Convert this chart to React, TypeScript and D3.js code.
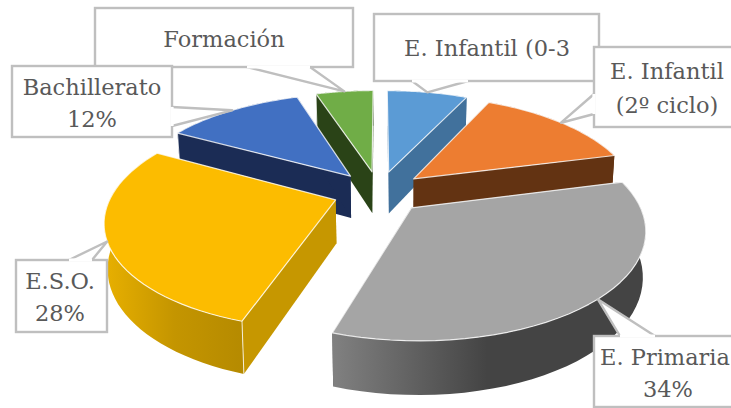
import React from "react";
import * as d3 from "d3";

const categories = ["E. Infantil (0-3", "E. Infantil (2º ciclo)", "E. Primaria", "E.S.O.", "Bachillerato", "Formación"];
const values = [7, 14, 34, 28, 12, 5];
const topColors = ["#5b9bd5", "#ed7d31", "#a5a5a5", "#fcbc00", "#4170c2", "#70ad47"];
const sideColors = ["#41719c", "#633312", "#444444", "#c69700", "#1b2c55", "#2a4317"];
const wallStops = [
	["#41719c", "#41719c"],
	["#633312", "#633312"],
	["#808080", "#444444", "#444444"],
	["#e8b000", "#c49500", "#b58a00"],
	["#1b2c55", "#1b2c55"],
	["#2a4317", "#2a4317"],
];

// callout boxes: text lines + box + which side the pointer leaves from
const callouts = [
	{slice: 5, box: [95, 8, 353, 67], base: [[247, 67], [310, 67]], lines: [["Formación", 224, 47]]},
	{slice: 4, box: [12, 66, 172, 137], base: [[172, 107], [172, 126]], lines: [["Bachillerato", 92, 95], ["12%", 92, 127]]},
	{slice: 0, box: [374, 14, 599, 81], base: [[412, 81], [468, 81]], lines: [["E. Infantil (0-3", 487, 56]]},
	{slice: 1, box: [594, 47, 760, 127], base: [[594, 94], [594, 114]], lines: [["E. Infantil", 667, 79], ["(2º ciclo)", 667, 113]]},
	{slice: 3, box: [16, 260, 107, 332], base: [[69, 260], [92, 260]], lines: [["E.S.O.", 60, 289], ["28%", 60, 321]]},
	{slice: 2, box: [594, 336, 760, 407], base: [[620, 336], [655, 336]], lines: [["E. Primaria", 665, 365], ["34%", 668, 397]]},
];

const cx = 379;
const cy = 192;
const R = 223;
const tilt = 0.46;
const persp = 0.18;
const depth = 43;
const explode = 46;

const pieGen = d3.pie<number>().sort(null).value((d) => d);
const arcs = pieGen(values);
const lineGen = d3.line<number[]>().x((d) => d[0]).y((d) => d[1]);

function project(X: number, Z: number, down: boolean) {
	const w = 1 + (persp * Z) / R;
	const x = cx + X / w;
	const y = cy - (tilt * Z) / w;
	if (!down) return [x, y];
	return [x + (400 - x) * 0.012, y + depth / w];
}

function point(mid: number, a: number, r: number, down = false) {
	const X = explode * Math.sin(mid) + r * Math.sin(a);
	const Z = explode * Math.cos(mid) + r * Math.cos(a);
	return project(X, Z, down);
}

const App = () => {
	const slices = arcs.map((d, i) => {
		const mid = (d.startAngle + d.endAngle) / 2;
		const steps = d3.range(0, 41).map((k) => d.startAngle + ((d.endAngle - d.startAngle) * k) / 40);
		const rim = steps.map((a) => point(mid, a, R));
		const rimLow = steps.map((a) => point(mid, a, R, true));
		const apex = point(mid, 0, 0);
		const apexLow = point(mid, 0, 0, true);
		return {
			i,
			top: lineGen([apex, ...rim])! + "Z",
			sideA: lineGen([apex, rim[0], rimLow[0], apexLow])! + "Z",
			sideB: lineGen([apex, rim[40], rimLow[40], apexLow])! + "Z",
			wall: lineGen([...rim, ...rimLow.slice().reverse()])! + "Z",
			corner: [rim[0], rimLow[0]],
			xr: d3.extent(rim, (p) => p[0]) as [number, number],
			tip: point(mid, mid, R),
		};
	});
	const drawOrder = [5, 4, 0, 1, 3, 2];

	return (
		<svg width={731} height={408} style={{position: "absolute", left: 0, top: 0, display: "block"}}>
			<defs>
				{slices.map((s) => (
					<linearGradient key={s.i} id={`wall${s.i}`} gradientUnits="userSpaceOnUse" x1={s.i === 2 ? 334 : s.xr[0]} x2={s.i === 2 ? 640 : 245} y1={0} y2={0}>
						{wallStops[s.i].map((c, k) => (
							<stop key={k} offset={k / (wallStops[s.i].length - 1)} stopColor={c} />
						))}
					</linearGradient>
				))}
			</defs>
			<rect width={731} height={408} fill="#ffffff" />
			{drawOrder.map((i) => {
				const s = slices[i];
				return (
					<g key={i}>
						<path d={s.sideA} fill={sideColors[i]} />
						<path d={s.sideB} fill={sideColors[i]} />
						<path d={s.wall} fill={`url(#wall${i})`} />
						<line x1={s.corner[0][0]} y1={s.corner[0][1]} x2={s.corner[1][0]} y2={s.corner[1][1]} stroke="#ffffff" strokeOpacity={0.8} />
						<path d={s.top} fill={topColors[i]} stroke="#ffffff" strokeOpacity={0.8} strokeWidth={1.2} strokeLinejoin="round" />
					</g>
				);
			})}
			{callouts.map((c) => {
				const [x0, y0, x1, y1] = c.box;
				const tip = slices[c.slice].tip;
				return (
					<g key={c.slice}>
						<rect x={x0} y={y0} width={x1 - x0} height={y1 - y0} fill="#ffffff" stroke="#bfbfbf" strokeWidth={2.4} />
						<path d={lineGen([c.base[0], tip, c.base[1]])!} fill="#ffffff" stroke="#bfbfbf" strokeWidth={2.4} strokeLinejoin="round" />
						<path d={lineGen(c.base)!} stroke="#ffffff" strokeWidth={3.2} />
						{c.lines.map((l) => (
							<text key={String(l[0])} x={l[1]} y={l[2]} textAnchor="middle" fontFamily="'DejaVu Serif', serif" fontSize={22.5} fill="#595959">
								{l[0]}
							</text>
						))}
					</g>
				);
			})}
		</svg>
	);
};

export default App;
